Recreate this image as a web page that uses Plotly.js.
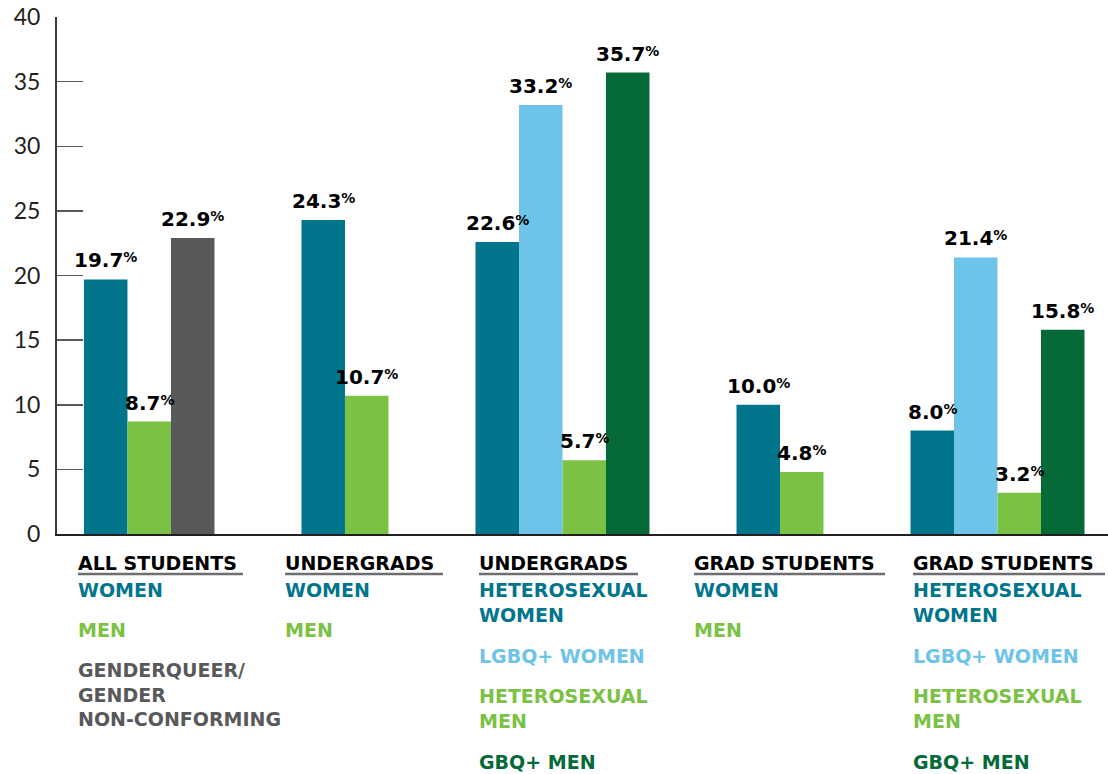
<!DOCTYPE html>
<html>
<head>
<meta charset="utf-8">
<script src="https://cdn.plot.ly/plotly-3.0.1.min.js"></script>
<style>html,body{margin:0;padding:0;background:#fff;}#chart{width:1108px;height:774px;}</style>
</head>
<body>
<div id="chart"></div>
<script>
// ---- data ----
const groupTitles = ['ALL STUDENTS', 'UNDERGRADS', 'UNDERGRADS', 'GRAD STUDENTS', 'GRAD STUDENTS'];

const allStudentsLabels = ['WOMEN', 'MEN', 'GENDERQUEER/<br>GENDER<br>NON-CONFORMING'];
const allStudentsValues = [19.7, 8.7, 22.9];

const undergradLabels = ['WOMEN', 'MEN'];
const undergradValues = [24.3, 10.7];

const undergradOrientationLabels = ['HETEROSEXUAL<br>WOMEN', 'LGBQ+ WOMEN', 'HETEROSEXUAL<br>MEN', 'GBQ+ MEN'];
const undergradOrientationValues = [22.6, 33.2, 5.7, 35.7];

const gradLabels = ['WOMEN', 'MEN'];
const gradValues = [10.0, 4.8];

const gradOrientationLabels = ['HETEROSEXUAL<br>WOMEN', 'LGBQ+ WOMEN', 'HETEROSEXUAL<br>MEN', 'GBQ+ MEN'];
const gradOrientationValues = [8.0, 21.4, 3.2, 15.8];

const yTickValues = [0, 5, 10, 15, 20, 25, 30, 35, 40];

// ---- styles ----
const TEAL = '#00758C', GREEN = '#7BC143', GRAY = '#58595B', LIGHTBLUE = '#6EC4E8', DARKGREEN = '#056A37';
const groups = [
  {labels: allStudentsLabels, values: allStudentsValues, colors: [TEAL, GREEN, GRAY], labelX: 78, headW: 165},
  {labels: undergradLabels, values: undergradValues, colors: [TEAL, GREEN], labelX: 285, headW: 158},
  {labels: undergradOrientationLabels, values: undergradOrientationValues, colors: [TEAL, LIGHTBLUE, GREEN, DARKGREEN], labelX: 479, headW: 159},
  {labels: gradLabels, values: gradValues, colors: [TEAL, GREEN], labelX: 694, headW: 191},
  {labels: gradOrientationLabels, values: gradOrientationValues, colors: [TEAL, LIGHTBLUE, GREEN, DARKGREEN], labelX: 913, headW: 192}
];

const W = 1108, H = 774, ML = 57, MT = 17, MB = 240;
const plotW = W - ML, plotH = H - MT - MB;
const px2paperX = px => (px - ML) / plotW;
const px2paperY = py => (H - MB - py) / plotH;

const FONT = '"DejaVu Sans", Inter, sans-serif';
const TICKFONT = 'Lato, "Open Sans", sans-serif';
const traces = [];
const annotations = [];
const shapes = [];

let pos = 0;
groups.forEach((g, gi) => {
  const xs = g.values.map((v, i) => pos + i);
  traces.push({
    type: 'bar', x: xs, y: g.values, width: 1,
    marker: {color: g.colors, line: {width: 0}},
    hoverinfo: 'skip', showlegend: false
  });
  g.values.forEach((v, i) => {
    annotations.push({
      x: xs[i], y: v, xref: 'x', yref: 'y', xanchor: 'center', yanchor: 'bottom', yshift: 5,
      showarrow: false,
      text: v.toFixed(1) + '<span style="font-size:14px;baseline-shift:5px">%</span>',
      font: {family: FONT, size: 20, color: '#000', weight: 'bold'}
    });
  });
  // header
  annotations.push({
    x: px2paperX(g.labelX - 2), y: px2paperY(550), xref: 'paper', yref: 'paper',
    xanchor: 'left', yanchor: 'top', showarrow: false, align: 'left',
    text: groupTitles[gi], font: {family: FONT, size: 19, color: '#000', weight: 'bold'}
  });
  shapes.push({
    type: 'line', xref: 'paper', yref: 'paper',
    x0: px2paperX(g.labelX), x1: px2paperX(g.labelX + g.headW),
    y0: px2paperY(574), y1: px2paperY(574),
    line: {color: '#6D6E71', width: 2.5}
  });
  let top = 577;
  g.labels.forEach((lab, i) => {
    const lines = lab.split('<br>').length;
    annotations.push({
      x: px2paperX(g.labelX - 2), y: px2paperY(top), xref: 'paper', yref: 'paper',
      xanchor: 'left', yanchor: 'top', showarrow: false, align: 'left',
      text: lab, font: {family: FONT, size: 19, color: g.colors[i], weight: 'bold'}
    });
    top += 40 + 26 * (lines - 1);
  });
  pos += g.values.length + 2;
});

const layout = {
  width: W, height: H,
  margin: {l: ML, r: 0, t: MT, b: MB, pad: 0},
  paper_bgcolor: '#fff', plot_bgcolor: '#fff',
  barmode: 'overlay',
  showlegend: false,
  xaxis: {
    range: [-1.12, 23.04], showticklabels: false, showgrid: false, zeroline: false,
    showline: true, linecolor: '#231F20', linewidth: 2, ticks: '', fixedrange: true
  },
  yaxis: {
    range: [0, 40], tickvals: yTickValues, ticktext: yTickValues.map(String),
    showgrid: false, zeroline: false,
    showline: true, linecolor: '#3A3A3A', linewidth: 2,
    ticks: 'inside', ticklen: 26, tickwidth: 1.5, tickcolor: '#58595B',
    ticklabelstandoff: 10,
    tickfont: {family: TICKFONT, size: 23, color: '#231F20'}, fixedrange: true
  },
  annotations: annotations,
  shapes: shapes
};

Plotly.newPlot('chart', traces, layout, {displayModeBar: false, staticPlot: true});
</script>
</body>
</html>
